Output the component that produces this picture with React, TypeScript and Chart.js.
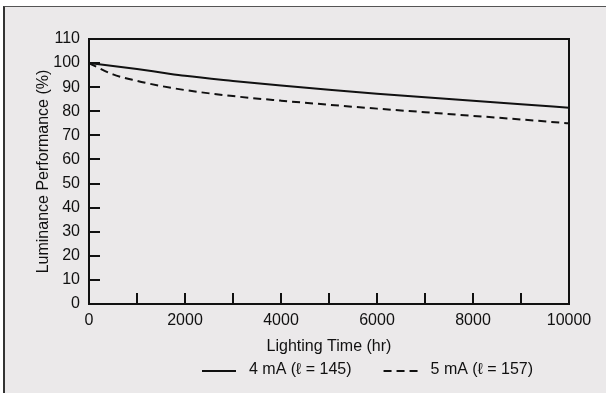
import React, { useEffect, useRef } from "react";
import { Chart, registerables } from "chart.js";

Chart.register(...registerables);

const hours = [0, 500, 1000, 1500, 2000, 3000, 4000, 5000, 6000, 7000, 8000, 9000, 10000];
const lum4mA = [100, 98.8, 97.5, 96.1, 94.7, 92.6, 90.7, 88.9, 87.3, 85.8, 84.4, 82.9, 81.5];
const lum5mA = [100, 95.3, 92.6, 90.5, 88.8, 86.3, 84.4, 82.7, 81.1, 79.6, 78.1, 76.6, 75.0];
const seriesLabels = ["4 mA (\u2113 = 145)", "5 mA (\u2113 = 157)"];
const yTickValues = [0, 10, 20, 30, 40, 50, 60, 70, 80, 90, 100, 110];
const yMarkValues = [10, 20, 30, 40, 50, 60, 70, 80, 90, 100];
const xTickValues = [0, 2000, 4000, 6000, 8000, 10000];
const xMarkValues = [1000, 2000, 3000, 4000, 5000, 6000, 7000, 8000, 9000];
const yTitle = "Luminance Performance (%)";
const xTitle = "Lighting Time (hr)";

const FONT = "'Liberation Sans', Arial, Helvetica, sans-serif";
const INK = "#111111";

const framePlugin = {
  id: "framePlugin",
  afterDatasetsDraw(chart: any) {
    const { ctx, chartArea } = chart;
    const { left, right, top, bottom } = chartArea;
    const xs = chart.scales.x;
    const ys = chart.scales.y;
    ctx.save();
    ctx.strokeStyle = INK;
    ctx.lineWidth = 2;
    ctx.setLineDash([]);
    ctx.strokeRect(left, top, right - left, bottom - top);
    ctx.beginPath();
    yMarkValues.forEach((v) => {
      const y = Math.round(ys.getPixelForValue(v));
      ctx.moveTo(left, y);
      ctx.lineTo(left + 11, y);
    });
    xMarkValues.forEach((v) => {
      const x = Math.round(xs.getPixelForValue(v));
      ctx.moveTo(x, bottom);
      ctx.lineTo(x, bottom - 11);
    });
    ctx.stroke();
    ctx.restore();
  },
  afterDraw(chart: any) {
    const { ctx } = chart;
    ctx.save();
    ctx.font = `16px ${FONT}`;
    ctx.fillStyle = INK;
    ctx.strokeStyle = INK;
    ctx.lineWidth = 2;
    ctx.textBaseline = "middle";
    ctx.textAlign = "left";
    const y = 371;
    const lineW = 34;
    let x = 202;
    chart.data.datasets.forEach((ds: any) => {
      ctx.setLineDash(ds.borderDash || []);
      ctx.beginPath();
      ctx.moveTo(x, y);
      ctx.lineTo(x + lineW, y);
      ctx.stroke();
      ctx.setLineDash([]);
      const tx = x + lineW + 13;
      ctx.fillText(ds.label, tx, y - 1);
      x = tx + ctx.measureText(ds.label).width + 32;
    });
    ctx.restore();
  },
};

export default function App() {
  const ref = useRef<HTMLCanvasElement | null>(null);
  useEffect(() => {
    if (!ref.current) return;
    const chart = new Chart(ref.current, {
      type: "line",
      data: {
        datasets: [
          {
            label: seriesLabels[0],
            data: hours.map((h, i) => ({ x: h, y: lum4mA[i] })),
            borderColor: INK,
            borderWidth: 2,
            pointRadius: 0,
            fill: false,
            cubicInterpolationMode: "monotone",
          },
          {
            label: seriesLabels[1],
            data: hours.map((h, i) => ({ x: h, y: lum5mA[i] })),
            borderColor: INK,
            borderWidth: 2,
            borderDash: [8, 5],
            pointRadius: 0,
            fill: false,
            cubicInterpolationMode: "monotone",
          },
        ],
      },
      options: {
        animation: false,
        responsive: false,
        layout: { padding: { left: 0, right: 37, top: 39, bottom: 37 } },
        plugins: { legend: { display: false }, tooltip: { enabled: false } },
        scales: {
          x: {
            type: "linear",
            min: 0,
            max: 10000,
            grid: { display: false, drawTicks: false },
            border: { display: false },
            afterBuildTicks: (s: any) => {
              s.ticks = xTickValues.map((v) => ({ value: v }));
            },
            afterFit: (s: any) => {
              s.height = 52;
            },
            ticks: {
              padding: 7,
              color: INK,
              font: { family: FONT, size: 16 },
              maxRotation: 0,
              callback: (v: any) => String(v),
            },
            title: {
              display: true,
              text: xTitle,
              color: INK,
              font: { family: FONT, size: 16 },
              padding: { top: 0, bottom: 0 },
            },
          },
          y: {
            type: "linear",
            min: 0,
            max: 110,
            grid: { display: false, drawTicks: false },
            border: { display: false },
            afterBuildTicks: (s: any) => {
              s.ticks = yTickValues.map((v) => ({ value: v }));
            },
            afterFit: (s: any) => {
              s.width = 89;
            },
            ticks: {
              padding: 9,
              color: INK,
              font: { family: FONT, size: 16 },
              callback: (v: any) => String(v),
            },
            title: {
              display: true,
              text: yTitle,
              color: INK,
              font: { family: FONT, size: 16 },
              padding: { top: 34, bottom: 0 },
            },
          },
        },
      },
      plugins: [framePlugin],
    } as any);
    return () => chart.destroy();
  }, []);

  return (
    <div style={{ position: "fixed", left: 0, top: 0, width: 606, height: 393, background: "#ffffff", overflow: "hidden" }}>
      <div
        style={{
          position: "absolute",
          left: 3,
          top: 6,
          width: 603,
          height: 387,
          background: "#ebe9ea",
          borderTop: "1px solid #555555",
          borderLeft: "2px solid #333333",
          boxSizing: "border-box",
        }}
      />
      <canvas ref={ref} width={606} height={393} style={{ position: "absolute", left: 0, top: 0, width: 606, height: 393 }} />
    </div>
  );
}
